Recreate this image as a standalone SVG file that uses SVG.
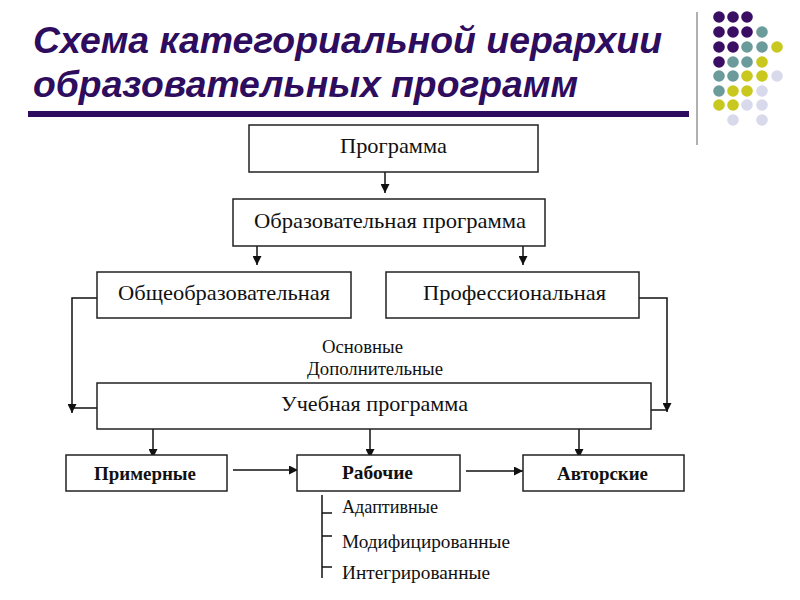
<svg xmlns="http://www.w3.org/2000/svg" width="800" height="600" viewBox="0 0 800 600">
<defs>
<style>
.title{font-family:"Liberation Sans",Arial,sans-serif;font-weight:bold;font-style:italic;font-size:36px;fill:#2E0C5E}
.box{fill:#fff;stroke:#222;stroke-width:1.5}
.t{font-family:"Liberation Serif","Times New Roman",serif;font-size:22px;fill:#111}
.s{font-family:"Liberation Serif","Times New Roman",serif;font-size:18.5px;fill:#111}
.b{font-family:"Liberation Serif","Times New Roman",serif;font-size:19px;font-weight:bold;fill:#111}
.c{fill:none;stroke:#111;stroke-width:1.5}
.p{fill:#3A0F63}.g{fill:#6B9C9B}.y{fill:#C9C81E}.l{fill:#D9D9EC}
</style>
<marker id="arr" viewBox="0 0 10 10" refX="10" refY="5" markerWidth="11" markerHeight="9" markerUnits="userSpaceOnUse" orient="auto">
<path d="M0,0 L10,5 L0,10 Z" fill="#111"/>
</marker>
</defs>
<rect width="800" height="600" fill="#fff"/>
<g id="title">
<text class="title" x="33" y="53" textLength="629" lengthAdjust="spacingAndGlyphs">Схема категориальной иерархии</text>
<text class="title" x="33" y="97" textLength="545" lengthAdjust="spacingAndGlyphs">образовательных программ</text>
<rect x="28" y="111" width="661" height="6" fill="#2E0C5E"/>
<line x1="697" y1="12" x2="697" y2="145" stroke="#B0B0B0" stroke-width="2"/>
</g>
<g id="dots">
<circle class="p" cx="719" cy="17" r="5.8"/><circle class="p" cx="733" cy="17" r="5.8"/><circle class="p" cx="747" cy="17" r="5.8"/>
<circle class="p" cx="719" cy="32" r="5.8"/><circle class="p" cx="733" cy="32" r="5.8"/><circle class="p" cx="747" cy="32" r="5.8"/><circle class="g" cx="762" cy="32" r="5.8"/>
<circle class="p" cx="719" cy="47" r="5.8"/><circle class="p" cx="733" cy="47" r="5.8"/><circle class="g" cx="747" cy="47" r="5.8"/><circle class="g" cx="762" cy="47" r="5.8"/><circle class="y" cx="777" cy="47" r="5.8"/>
<circle class="p" cx="719" cy="62" r="5.8"/><circle class="g" cx="733" cy="62" r="5.8"/><circle class="g" cx="747" cy="62" r="5.8"/><circle class="y" cx="762" cy="62" r="5.8"/>
<circle class="g" cx="719" cy="76" r="5.8"/><circle class="g" cx="733" cy="76" r="5.8"/><circle class="y" cx="747" cy="76" r="5.8"/><circle class="y" cx="762" cy="76" r="5.8"/><circle class="l" cx="777" cy="76" r="5.8"/>
<circle class="g" cx="719" cy="91" r="5.8"/><circle class="y" cx="733" cy="91" r="5.8"/><circle class="y" cx="747" cy="91" r="5.8"/><circle class="l" cx="762" cy="91" r="5.8"/>
<circle class="y" cx="719" cy="105" r="5.8"/><circle class="y" cx="733" cy="105" r="5.8"/><circle class="l" cx="747" cy="105" r="5.8"/><circle class="l" cx="762" cy="105" r="5.8"/>
<circle class="l" cx="733" cy="120" r="5.8"/><circle class="l" cx="762" cy="120" r="5.8"/>
</g>
<g id="connectors">
<line class="c" x1="385" y1="172" x2="385" y2="193" marker-end="url(#arr)"/>
<line class="c" x1="257" y1="246" x2="257" y2="265" marker-end="url(#arr)"/>
<line class="c" x1="523" y1="246" x2="523" y2="265" marker-end="url(#arr)"/>
<polyline class="c" points="97,298 72,298 72,413" marker-end="url(#arr)"/>
<line class="c" x1="72" y1="408" x2="97" y2="408"/>
<polyline class="c" points="639,298 667,298 667,412" marker-end="url(#arr)"/>
<line class="c" x1="643" y1="410" x2="667" y2="410"/>
<line class="c" x1="153" y1="429" x2="153" y2="458" marker-end="url(#arr)"/>
<line class="c" x1="370" y1="429" x2="370" y2="458" marker-end="url(#arr)"/>
<line class="c" x1="579" y1="429" x2="579" y2="458" marker-end="url(#arr)"/>
<line class="c" x1="233" y1="470" x2="298" y2="470" marker-end="url(#arr)"/>
<line class="c" x1="466" y1="471" x2="523" y2="471" marker-end="url(#arr)"/>
<polyline class="c" points="322,495 322,578"/>
<line class="c" x1="322" y1="513" x2="332" y2="513"/>
<line class="c" x1="322" y1="536" x2="332" y2="536"/>
<line class="c" x1="322" y1="567" x2="332" y2="567"/>
</g>
<g id="programma">
<rect class="box" x="249" y="125" width="289" height="47"/>
<text class="t" x="393.5" y="153" text-anchor="middle" textLength="107" lengthAdjust="spacingAndGlyphs">Программа</text>
</g>
<g id="obrazovatelnaya">
<rect class="box" x="233" y="199" width="312" height="47"/>
<text class="t" x="390" y="228" text-anchor="middle" textLength="272" lengthAdjust="spacingAndGlyphs">Образовательная программа</text>
</g>
<g id="obshcheobr">
<rect class="box" x="97" y="272" width="254" height="46"/>
<text class="t" x="224" y="300" text-anchor="middle" textLength="212" lengthAdjust="spacingAndGlyphs">Общеобразовательная</text>
</g>
<g id="prof">
<rect class="box" x="386" y="272" width="253" height="46"/>
<text class="t" x="514.5" y="300" text-anchor="middle" textLength="183" lengthAdjust="spacingAndGlyphs">Профессиональная</text>
</g>
<g id="osnovnye">
<text class="s" x="322" y="353" textLength="81" lengthAdjust="spacingAndGlyphs">Основные</text>
<text class="s" x="307" y="375" textLength="136" lengthAdjust="spacingAndGlyphs">Дополнительные</text>
</g>
<g id="uchebnaya">
<rect class="box" x="97" y="383" width="554" height="46"/>
<text class="t" x="281" y="411" textLength="187" lengthAdjust="spacingAndGlyphs">Учебная программа</text>
</g>
<g id="primernye">
<rect class="box" x="66" y="455" width="161" height="36"/>
<text class="b" x="94" y="480" textLength="102" lengthAdjust="spacingAndGlyphs">Примерные</text>
</g>
<g id="rabochie">
<rect class="box" x="297" y="455" width="163" height="36"/>
<text class="b" x="342" y="479" textLength="71" lengthAdjust="spacingAndGlyphs">Рабочие</text>
</g>
<g id="avtorskie">
<rect class="box" x="523" y="455" width="161" height="36"/>
<text class="b" x="557" y="480" textLength="91" lengthAdjust="spacingAndGlyphs">Авторские</text>
</g>
<g id="vidy">
<text class="s" x="342" y="513" textLength="96" lengthAdjust="spacingAndGlyphs">Адаптивные</text>
<text class="s" x="342" y="548" textLength="168" lengthAdjust="spacingAndGlyphs">Модифицированные</text>
<text class="s" x="342" y="579" textLength="148" lengthAdjust="spacingAndGlyphs">Интегрированные</text>
</g>
</svg>
